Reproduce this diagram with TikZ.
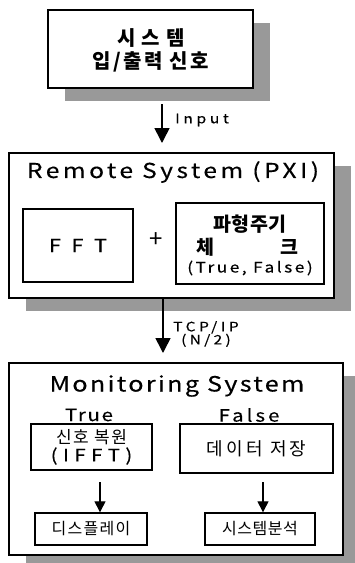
\documentclass[tikz,border=0pt]{standalone}
\usepackage{fontspec}
\setmainfont{Noto Sans CJK KR}
\newfontfamily\lat{Noto Sans CJK KR}[FakeStretch=1.2, FakeBold=0.3]
\usetikzlibrary{arrows.meta,shadows}
\definecolor{shadowgray}{HTML}{999999}
\tikzset{
  panel/.style={draw=black, line width=1.8pt, fill=white, inner sep=0pt,
    drop shadow={shadow xshift=17pt, shadow yshift=-13pt, fill=shadowgray, opacity=1}},
  inbox/.style={draw=black, line width=1.4pt, fill=white, inner sep=0pt, align=center},
  txt/.style={inner sep=0pt, align=center},
  flow/.style={line width=1.6pt, -{Triangle[width=15pt,length=15pt]}},
  smallflow/.style={line width=1.3pt, -{Triangle[width=11pt,length=11pt]}},
}
\newcommand{\spaced}[1]{\addfontfeature{LetterSpace=#1}}
\begin{document}
\begin{tikzpicture}[x=1pt,y=-1pt]
\useasboundingbox (0,0) rectangle (354,563);

% top block: system I/O signals
\node[panel, minimum width=205pt, minimum height=78pt] (io) at (150.5,49) {};
\node[txt, font=\fontsize{20}{24}\selectfont\bfseries] (iot) at (151,50)
  {\spaced{8}시 스 템\\[-1pt]\spaced{12}입/출력 신호};

% remote system (PXI)
\node[panel, minimum width=325pt, minimum height=145pt] (rs) at (171.5,225.5) {};
\node[txt, font=\fontsize{20.5}{24}\selectfont\lat] (rst) at (173,172) {\spaced{17}Remote System (PXI)};
\node[inbox, minimum width=110pt, minimum height=73pt, font=\fontsize{18}{20}\selectfont\lat] (fft) at (78,245.5) {\spaced{32}F F T};
\node[txt, font=\fontsize{24}{24}\selectfont] (plus) at (156.5,240) {+};
\node[inbox, minimum width=148pt, minimum height=81pt] (chk) at (250,243.5) {};
\node[txt, font=\fontsize{19.5}{24}\selectfont\bfseries] (chk1) at (250,224) {\spaced{2}파형주기};
\node[txt, font=\fontsize{19.5}{24}\selectfont\bfseries] (chk2) at (247,247) {체\hspace{66pt}크};
\node[txt, font=\fontsize{14.5}{16}\selectfont\lat] (chk3) at (250,268) {\spaced{17}(True, False)};

% monitoring system
\node[panel, minimum width=334pt, minimum height=192pt] (ms) at (176,459) {};
\node[txt, font=\fontsize{21}{24}\selectfont\lat] (mst) at (177,386) {\spaced{11}Monitoring System};
\node[txt, font=\fontsize{17}{20}\selectfont\lat] (tr) at (89,415) {\spaced{10}True};
\node[txt, font=\fontsize{17}{20}\selectfont\lat] (fa) at (249,415) {\spaced{18}False};
\node[inbox, minimum width=121pt, minimum height=46pt, font=\fontsize{17}{20}\selectfont] (rec) at (91.5,447)
  {\spaced{9}신호 복원\\[-2pt]\lat\spaced{32}(IFFT)};
\node[inbox, minimum width=153pt, minimum height=49pt, font=\fontsize{18}{20}\selectfont] (sto) at (256.5,448.5)
  {\spaced{18}데이터 저장};
\node[inbox, minimum width=112pt, minimum height=32pt, font=\fontsize{16}{20}\selectfont] (disp) at (91,529)
  {\spaced{8}디스플레이};
\node[inbox, minimum width=110pt, minimum height=32pt, font=\fontsize{16}{20}\selectfont] (ana) at (260,529)
  {\spaced{3}시스템분석};

% connectors between blocks
\coordinate (a1s) at (162,104);
\coordinate (a1e) at (162,143);
\draw[flow] (a1s) -- (a1e);
\node[txt, anchor=west, font=\fontsize{13}{15}\selectfont\lat] (inlab) at (175,120) {\spaced{28}Input};

\coordinate (a2s) at (163,299);
\coordinate (a2e) at (163,353);
\draw[flow] (a2s) -- (a2e);
\node[txt, anchor=west, font=\fontsize{13}{15}\selectfont\lat] (tcplab) at (173,334)
  {\spaced{27}TCP/IP\\[-2pt]\spaced{25}(N/2)};

\draw[smallflow] (100,482) -- (disp.north -| 100,0);
\draw[smallflow] (263,482) -- (ana.north -| 263,0);
\end{tikzpicture}
\end{document}
